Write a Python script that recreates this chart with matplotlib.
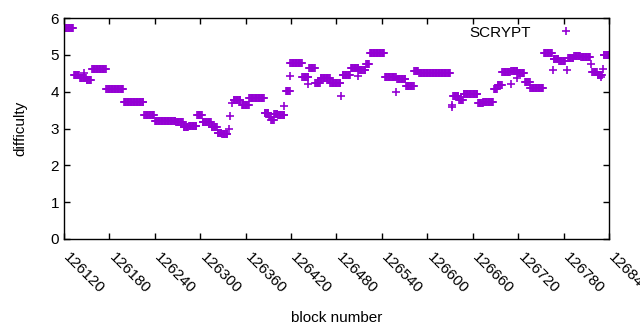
import matplotlib
matplotlib.use("Agg")
import matplotlib.pyplot as plt
import matplotlib.transforms as mtransforms
import numpy as np

plt.rcParams['font.family'] = ['Liberation Sans', 'DejaVu Sans']

# runs of constant difficulty: first block, last block, difficulty
run_start = [126120, 126133, 126141, 126150, 126157, 126176, 126199, 126226,
             126240, 126268, 126278, 126285, 126296, 126303, 126315, 126323,
             126329, 126344, 126355, 126365, 126385, 126391, 126394, 126398,
             126403, 126413, 126419, 126435, 126444, 126452, 126459, 126472,
             126488, 126499, 126510, 126519, 126524, 126544, 126560, 126572,
             126583, 126589, 126634, 126642, 126648, 126667, 126674, 126688,
             126693, 126699, 126711, 126720, 126729, 126736, 126754, 126767,
             126774, 126786, 126794, 126803, 126818, 126825, 126833]
run_end = [126132, 126140, 126149, 126156, 126175, 126198, 126225, 126239,
           126267, 126277, 126284, 126295, 126302, 126314, 126322, 126328,
           126336, 126353, 126364, 126384, 126390, 126393, 126397, 126402,
           126411, 126418, 126434, 126443, 126451, 126458, 126471, 126485,
           126498, 126509, 126518, 126523, 126543, 126558, 126571, 126582,
           126588, 126630, 126641, 126647, 126666, 126673, 126687, 126692,
           126698, 126709, 126719, 126728, 126735, 126753, 126765, 126773,
           126782, 126793, 126802, 126815, 126824, 126831, 126840]
run_diff = [5.73, 4.46, 4.37, 4.31, 4.62, 4.07, 3.72, 3.37,
            3.20, 3.17, 3.03, 3.08, 3.38, 3.17, 3.03, 2.87,
            2.85, 3.77, 3.64, 3.82, 3.41, 3.31, 3.23, 3.39,
            3.36, 4.02, 4.78, 4.40, 4.65, 4.23, 4.37, 4.23,
            4.45, 4.65, 4.58, 4.75, 5.06, 4.41, 4.35, 4.16,
            4.55, 4.50, 3.88, 3.77, 3.94, 3.69, 3.72, 4.07,
            4.18, 4.54, 4.55, 4.50, 4.27, 4.10, 5.04, 4.88,
            4.83, 4.92, 4.97, 4.93, 4.54, 4.46, 5.00]

# single blocks off the runs
odd_block = [126146, 126338, 126339, 126342, 126411, 126418, 126443, 126486,
             126509, 126559, 126632, 126633, 126710, 126719, 126766, 126785,
             126816, 126829, 126832]
odd_diff = [4.50, 3.00, 3.35, 3.68, 3.60, 4.43, 4.22, 3.88,
            4.43, 3.98, 3.58, 3.63, 4.22, 4.37, 4.59, 4.59,
            4.76, 4.40, 4.61]

blocks = []
diffs = []
for s, e, d in zip(run_start, run_end, run_diff):
    for b in range(s, e + 1):
        blocks.append(b)
        diffs.append(d)
blocks += odd_block
diffs += odd_diff

fig = plt.figure(figsize=(6.4, 3.3), dpi=100)
ax = fig.add_axes([64/640, 1-239/330, 545/640, 221/330])

ax.plot(blocks, diffs, '+', color='#9400d3', markersize=6, mew=1.2,
        linestyle='none', label='SCRYPT')

ax.set_xlim(126120, 126840)
ax.set_ylim(0, 6)
ax.set_xticks(np.arange(126120, 126841, 60))
ax.set_yticks(np.arange(0, 7, 1))
ax.tick_params(direction='in', length=4, width=1, top=True, right=True,
               labelsize=11, colors='black')
ax.tick_params(axis='x', pad=8)
shift = mtransforms.ScaledTranslation(7/100, 0, fig.dpi_scale_trans)
for lab in ax.get_xticklabels():
    lab.set_rotation(-45)
    lab.set_ha('left')
    lab.set_va('top')
    lab.set_rotation_mode('anchor')
    lab.set_transform(lab.get_transform() + shift)
for sp in ax.spines.values():
    sp.set_linewidth(1)

ax.set_xlabel('block number', fontsize=11, labelpad=11)
ax.set_ylabel('difficulty', fontsize=11, labelpad=17)

ax.legend(loc='upper right', frameon=False, markerfirst=False, numpoints=1,
          fontsize=11, handlelength=4.6, handletextpad=0.0,
          borderaxespad=0.2, borderpad=0.3)

fig.savefig('out.png', dpi=100)
